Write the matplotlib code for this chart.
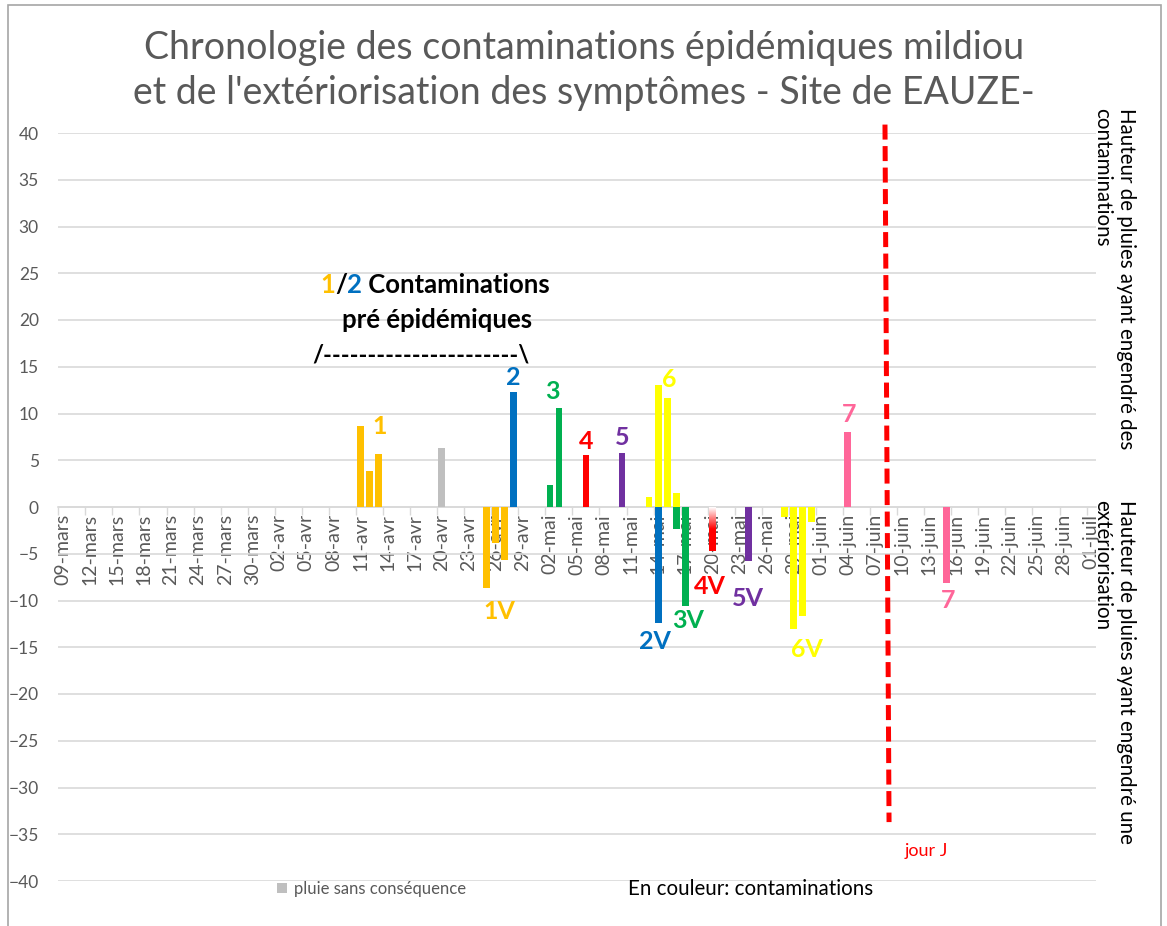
import numpy as np
import pandas as pd
import matplotlib
matplotlib.use('Agg')
import matplotlib.pyplot as plt
from matplotlib.colors import LinearSegmentedColormap
from matplotlib.patches import Rectangle

plt.rcParams['font.family'] = ['Lato', 'DejaVu Sans']

# axe des jours (une categorie par jour)
debut, fin = '2021-03-09', '2021-07-01'
mois_fr = {3: 'mars', 4: 'avr', 5: 'mai', 6: 'juin', 7: 'juil'}

# pluies contaminantes (en positif) - '0' = pluie sans consequence
contam_dates = ['2021-04-11', '2021-04-12', '2021-04-13', '2021-04-20', '2021-04-28',
                '2021-05-02', '2021-05-03', '2021-05-06', '2021-05-10', '2021-05-13',
                '2021-05-14', '2021-05-15', '2021-05-16', '2021-06-04']
contam_mm = [8.7, 3.8, 5.7, 6.3, 12.3, 2.4, 10.6, 5.6, 5.8, 1.1, 13.0, 11.7, 1.5, 8.0]
contam_num = ['1', '1', '1', '0', '2', '3', '3', '4', '5', '6', '6', '6', '6', '7']

# pluies ayant engendre l'exteriorisation (en negatif)
ext_dates = ['2021-04-25', '2021-04-26', '2021-04-27', '2021-05-14', '2021-05-16',
             '2021-05-17', '2021-05-20', '2021-05-24', '2021-05-28', '2021-05-29',
             '2021-05-30', '2021-05-31', '2021-06-15']
ext_mm = [-8.7, -3.8, -5.7, -12.4, -2.4, -10.6, -4.7, -5.8, -1.1, -13.0, -11.7, -1.6, -8.1]
ext_num = ['1', '1', '1', '2', '3', '3', '4', '5', '6', '6', '6', '6', '7']

jour_j = '2021-06-08'

couleurs = {'0': '#BFBFBF', '1': '#FFC000', '2': '#0070C0', '3': '#00B050',
            '4': '#FF0000', '5': '#7030A0', '6': '#FFFF00', '7': '#FF6699'}

gris = '#595959'
grille = '#D9D9D9'

jours = pd.date_range(debut, fin, freq='D')
t0 = jours[0]
def idx(d):
    return (pd.Timestamp(d) - t0).days

fig = plt.figure(figsize=(11.67, 9.26), dpi=100)
ax = fig.add_axes([58.3 / 1167, 45 / 926, 1037.3 / 1167, 748 / 926])

# barres
xc = [idx(d) for d in contam_dates]
b1 = ax.bar(xc, contam_mm, width=0.75, color=[couleurs[n] for n in contam_num], zorder=3)
xe = [idx(d) for d in ext_dates]
b2 = ax.bar(xe, ext_mm, width=0.75, color=[couleurs[n] for n in ext_num], zorder=3)

# la barre 4V est en degrade blanc -> rouge
k = ext_num.index('4')
bar4 = b2[k]
bar4.set_facecolor('none')
grad = np.linspace(0, 1, 100).reshape(-1, 1)
cm = LinearSegmentedColormap.from_list('deg', ['#FFFFFF', '#FF0000', '#FF0000'])
im = ax.imshow(grad, cmap=cm, aspect='auto', origin='upper', zorder=3,
               extent=[bar4.get_x(), bar4.get_x() + bar4.get_width(), ext_mm[k], 0])
im.set_clip_path(bar4)

ax.set_xlim(-0.5, len(jours) - 0.5)
ax.set_ylim(-40, 40)

# axes
for s in ['top', 'right', 'left']:
    ax.spines[s].set_visible(False)
ax.spines['bottom'].set_position(('data', 0))
ax.spines['bottom'].set_color(grille)
ax.spines['bottom'].set_linewidth(1.2)

pos_lab = np.arange(0, len(jours), 3)
ax.set_xticks(pos_lab - 0.5)
ax.set_xticklabels([])
ax.tick_params(axis='x', which='major', length=6, color=grille, width=1)
ax.set_xticks(pos_lab, minor=True)
ax.set_xticklabels(['%02d-%s' % (jours[i].day, mois_fr[jours[i].month]) for i in pos_lab],
                   minor=True, rotation=90, fontsize=14, color=gris)
ax.tick_params(axis='x', which='minor', length=0, pad=5)

ax.set_yticks(np.arange(-40, 41, 5))
ax.tick_params(axis='y', length=0, pad=14, labelsize=12.5, labelcolor=gris)
ax.yaxis.grid(True, color=grille, lw=1.2)

# numeros des contaminations
etiquettes = [('1', '1', 35.1, 8.6), ('2', '2', 49.97, 13.9), ('3', '3', 54.3, 12.3),
              ('4', '4', 58.0, 7.0), ('5', '5', 62.07, 7.45), ('6', '6', 67.24, 13.6),
              ('7', '7', 87.2, 9.84),
              ('1V', '1', 48.4, -11.2), ('2V', '2', 65.65, -14.4), ('3V', '3', 69.3, -12.1),
              ('4V', '4', 71.75, -8.5), ('5V', '5', 76.0, -9.8), ('6V', '6', 82.5, -15.2),
              ('7', '7', 98.2, -10.0)]
for txt, n, x, y in etiquettes:
    ax.text(x, y, txt, color=couleurs[n], fontsize=18, fontweight='bold',
            ha='center', va='center', zorder=5)

# jour J
xj = idx(jour_j)
ax.plot([xj + 0.15, xj + 0.6], [40.9, -33.7], color='#FF0000', lw=3.6,
        dashes=(3.0, 1.3), solid_capstyle='butt', dash_capstyle='butt',
        clip_on=False, zorder=4)
fig.text(926 / 1167, 1 - 851 / 926, 'jour J', color='#FF0000', fontsize=13,
         ha='center', va='center')

# texte pre-epidemique, premiere ligne en plusieurs couleurs
prev = fig.text(320 / 1167, 1 - 285 / 926, '1', color=couleurs['1'], fontsize=18.5,
                fontweight='bold', ha='left', va='center')
for s, c in [('/', 'black'), ('2', couleurs['2']), (' Contaminations', 'black')]:
    prev = ax.annotate(s, xy=(1, 0), xycoords=prev, fontsize=18.5, fontweight='bold',
                       color=c, ha='left', va='bottom', annotation_clip=False)
fig.text(437 / 1167, 1 - 320 / 926, 'pré épidémiques', fontsize=18.5,
         fontweight='bold', ha='center', va='center')
fig.text(421 / 1167, 1 - 355 / 926, '/' + '-' * 22 + '\\', fontsize=17,
         fontweight='bold', ha='center', va='center')

# titre
fig.text(584 / 1167, 1 - 70.5 / 926,
         "Chronologie des contaminations épidémiques mildiou\n"
         "et de l'extériorisation des symptômes - Site de EAUZE-",
         fontsize=27, color=gris, ha='center', va='center', linespacing=1.3)

# textes de droite
fig.text(1114 / 1167, 1 - 108 / 926, 'Hauteur de pluies ayant engendré des\ncontaminations',
         rotation=270, ha='center', va='top', multialignment='left', fontsize=14.8,
         linespacing=1.25)
fig.text(1114 / 1167, 1 - 500 / 926, 'Hauteur de pluies ayant engendré une\nextériorisation',
         rotation=270, ha='center', va='top', multialignment='left', fontsize=14.8,
         linespacing=1.25)

# legende
fig.legend([b1[contam_num.index('0')]], ['pluie sans conséquence'], loc='center left',
           bbox_to_anchor=(262 / 1167, 1 - 889 / 926), frameon=False, fontsize=12,
           handlelength=0.6, handleheight=0.6, handletextpad=0.4, labelcolor=gris)
fig.text(628 / 1167, 1 - 889 / 926, 'En couleur: contaminations', fontsize=14.8,
         color='black', ha='left', va='center')

# cadre
fig.patches.append(Rectangle((8 / 1167, -0.01), 1153 / 1167, 1.01 - 5 / 926,
                             transform=fig.transFigure, fill=False, ec='#A6A6A6', lw=1.2))

fig.savefig('out.png', dpi=100)
